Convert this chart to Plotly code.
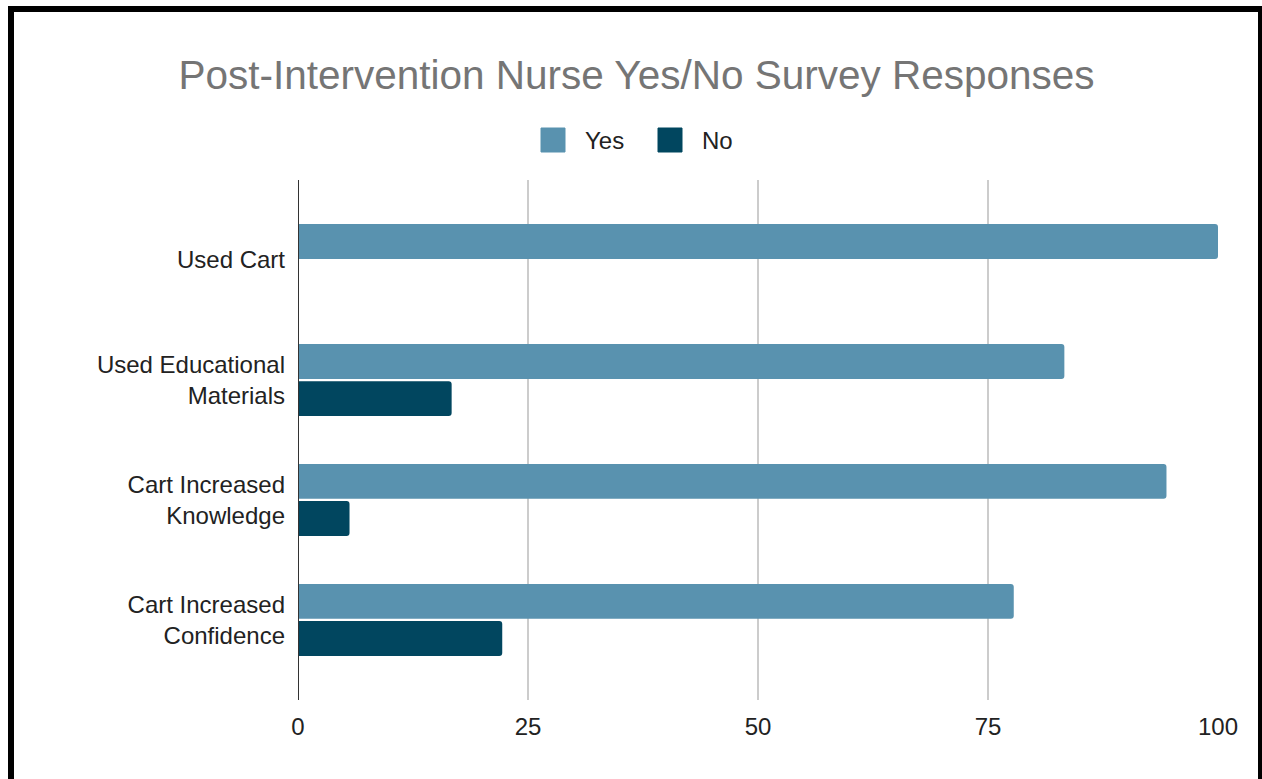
import plotly.graph_objects as go

categories = ["Used Cart", "Used Educational<br>Materials", "Cart Increased<br>Knowledge", "Cart Increased<br>Confidence"]
series_names = ["Yes", "No"]
yes_values = [100, 83.3, 94.4, 77.8]
no_values = [0, 16.7, 5.6, 22.2]
x_ticks = [0, 25, 50, 75, 100]

COLORS = {"Yes": "#5992af", "No": "#01465f"}
FONT = "Liberation Sans, Arial, sans-serif"

W, H = 1262, 779
L, R, T, B = 298, 44, 180, 79
pw, ph = W - L - R, H - T - B


def px_x(x):
    return (x - L) / pw


def px_y(y):
    return (H - B - y) / ph


fig = go.Figure()
for name, vals in zip(series_names, [yes_values, no_values]):
    fig.add_trace(go.Bar(y=categories, x=vals, name=name, orientation="h",
                         showlegend=False,
                         marker=dict(color=COLORS[name], cornerradius=3, line=dict(width=0))))

shapes = [
    dict(type="line", xref="x", yref="paper", x0=0, x1=0, y0=0, y1=1,
         line=dict(color="#333333", width=2), layer="above"),
    dict(type="rect", xref="paper", yref="paper",
         x0=px_x(11), x1=px_x(1261), y0=px_y(810), y1=px_y(9),
         line=dict(color="black", width=6), fillcolor="rgba(0,0,0,0)"),
]
annotations = []

# legend (drawn manually to match large square swatches)
legend_items = [("Yes", 541, 583), ("No", 658, 700)]
for name, sx, tx in legend_items:
    shapes.append(dict(type="rect", xref="paper", yref="paper",
                       x0=px_x(sx), x1=px_x(sx + 24), y0=px_y(128), y1=px_y(152),
                       line=dict(color=COLORS[name], width=1), fillcolor=COLORS[name]))
    annotations.append(dict(text=name, xref="paper", yref="paper", x=px_x(tx), y=px_y(140),
                            xanchor="left", yanchor="middle", showarrow=False,
                            font=dict(family=FONT, size=24, color="#222222")))

fig.update_layout(
    width=W, height=H,
    margin=dict(l=L, r=R, t=T, b=B),
    paper_bgcolor="white", plot_bgcolor="white",
    font=dict(family=FONT, size=24, color="#222222"),
    title=dict(text="Post-Intervention Nurse Yes/No Survey Responses",
               x=636.5 / W, xref="container", xanchor="center", y=1 - 75 / H, yref="container",
               yanchor="middle", font=dict(size=40.5, color="#757575")),
    showlegend=False,
    barmode="group", bargap=0.38, bargroupgap=0.06,
    xaxis=dict(range=[0, 100], tickvals=x_ticks, showgrid=True, gridcolor="#cccccc",
               gridwidth=1.5, zeroline=False, showline=False, ticks="",
               ticklabelstandoff=10, tickfont=dict(size=24, color="#222222")),
    yaxis=dict(range=[3.667, -0.667], showgrid=False, showline=False, ticks="",
               ticklabelstandoff=12, tickfont=dict(size=24, color="#222222")),
    shapes=shapes,
    annotations=annotations,
)

fig.write_html("out.html", config={"displayModeBar": False},
               post_script="document.body.style.margin='0';document.body.style.overflow='hidden';")
